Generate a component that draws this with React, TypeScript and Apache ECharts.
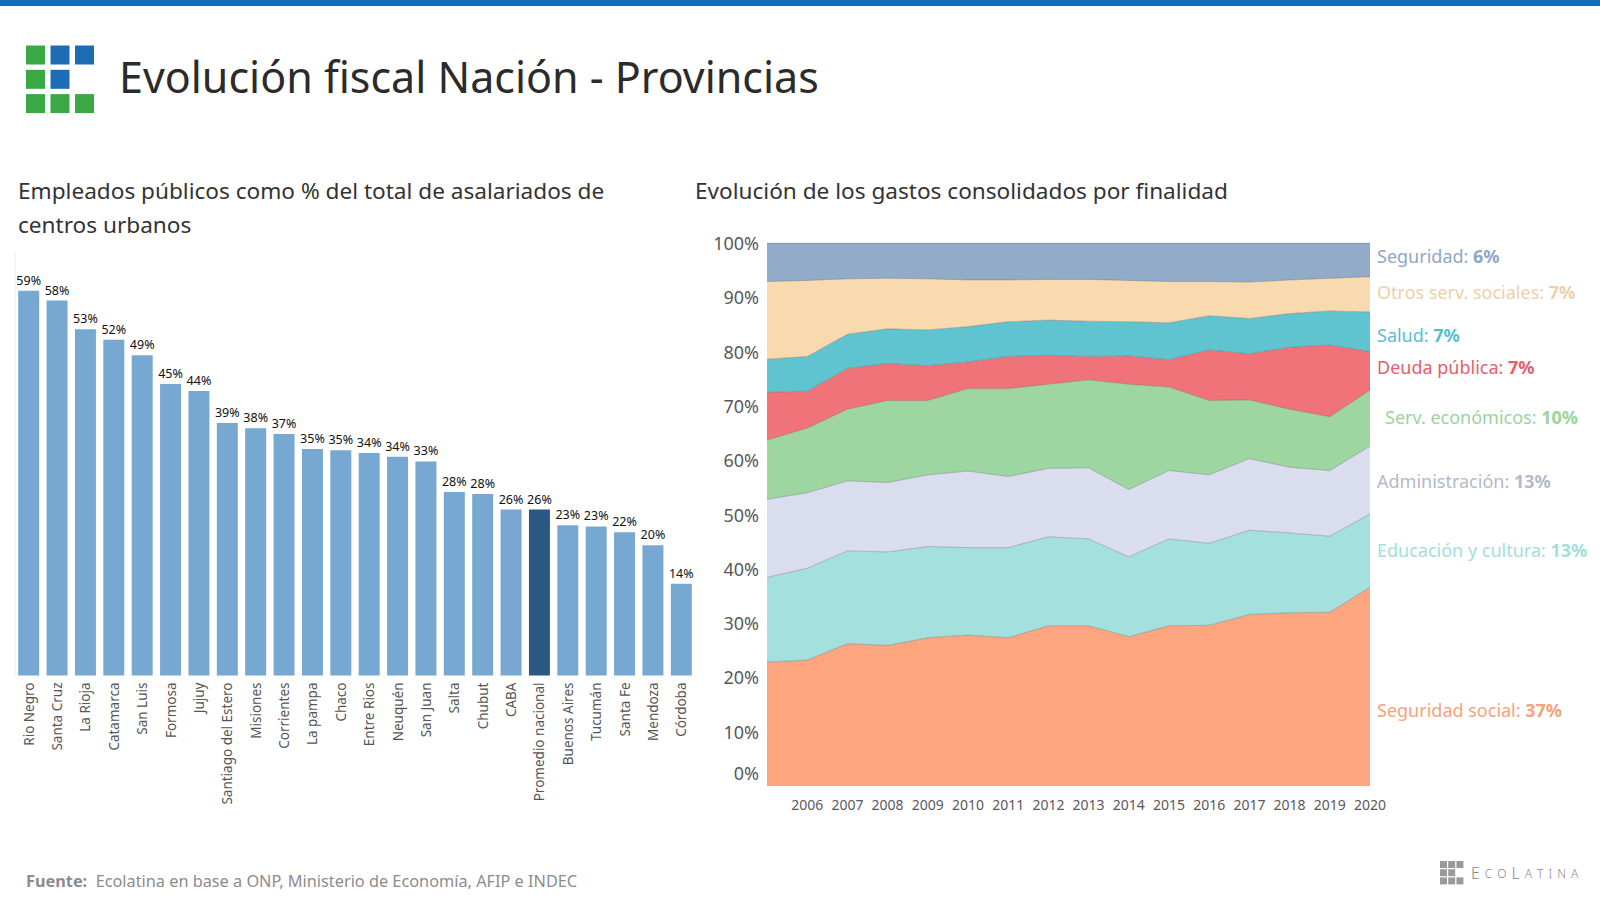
import React, { useEffect, useRef } from "react";
import * as echarts from "echarts";

// ---- Data: bar chart ----
const barCategories = [
  "Rio Negro", "Santa Cruz", "La Rioja", "Catamarca", "San Luis", "Formosa", "Jujuy",
  "Santiago del Estero", "Misiones", "Corrientes", "La pampa", "Chaco", "Entre Rios",
  "Neuquén", "San Juan", "Salta", "Chubut", "CABA", "Promedio nacional", "Buenos Aires",
  "Tucumán", "Santa Fe", "Mendoza", "Córdoba",
];
const barValues = [
  59.1, 57.6, 53.2, 51.6, 49.2, 44.8, 43.7, 38.8, 38.0, 37.1, 34.8, 34.6, 34.2, 33.6,
  32.9, 28.2, 27.9, 25.5, 25.5, 23.1, 22.9, 22.0, 20.0, 14.1,
];
const highlightCategory = "Promedio nacional";

// ---- Data: stacked area chart ----
const years = ["2005", "2006", "2007", "2008", "2009", "2010", "2011", "2012", "2013", "2014", "2015", "2016", "2017", "2018", "2019", "2020"];
const seguridadSocial = [22.8, 23.2, 26.2, 25.9, 27.3, 27.8, 27.3, 29.5, 29.5, 27.5, 29.5, 29.6, 31.6, 31.9, 32.0, 36.6];
const educacion = [15.6, 16.9, 17.1, 17.2, 16.8, 16.1, 16.6, 16.4, 16.0, 14.7, 16.0, 15.1, 15.5, 14.7, 14.0, 13.5];
const administracion = [14.4, 13.9, 12.9, 12.8, 13.2, 14.1, 13.1, 12.6, 13.1, 12.4, 12.6, 12.6, 13.2, 12.1, 12.1, 12.5];
const servEconomicos = [10.9, 11.9, 13.2, 15.1, 13.7, 15.2, 16.2, 15.5, 16.2, 19.4, 15.4, 13.7, 10.8, 10.7, 9.9, 10.3];
const deudaPublica = [8.8, 6.8, 7.5, 6.8, 6.4, 4.9, 5.9, 5.3, 4.3, 5.2, 5.0, 9.3, 8.5, 11.4, 13.2, 7.1];
const salud = [6.1, 6.4, 6.3, 6.4, 6.6, 6.5, 6.4, 6.5, 6.5, 6.3, 6.8, 6.3, 6.5, 6.2, 6.3, 7.3];
const otrosServSociales = [14.3, 14.0, 10.2, 9.3, 9.4, 8.6, 7.7, 7.5, 7.7, 7.6, 7.6, 6.3, 6.7, 6.2, 6.0, 6.5];
const seguridad = [7.1, 6.9, 6.6, 6.5, 6.6, 6.8, 6.8, 6.7, 6.7, 6.9, 7.1, 7.1, 7.2, 6.8, 6.5, 6.2];

const yTicks = [0, 10, 20, 30, 40, 50, 60, 70, 80, 90, 100];

// Series bottom -> top
const areaNames = ["Seguridad social", "Educación y cultura", "Administración", "Serv. económicos", "Deuda pública", "Salud", "Otros serv. sociales", "Seguridad"];
const areaData = [seguridadSocial, educacion, administracion, servEconomicos, deudaPublica, salud, otrosServSociales, seguridad];
const areaLastLabels = ["37%", "13%", "13%", "10%", "7%", "7%", "7%", "6%"];

const FONT = "'Noto Sans', 'Open Sans', sans-serif";
const areaColors = ["#FCA57E", "#A3E0DE", "#D9DDEE", "#9DD6A1", "#F0737A", "#5FC4D0", "#F9DAAF", "#91ABC8"];
const labelColors = ["#F6A27B", "#A2DEDC", "#B3BAC9", "#9AD49E", "#E4606C", "#58BFCE", "#EDD0A8", "#8EA6C6"];
// label anchors (x, y centre) for right-hand annotations, same order as areaNames
const labelPos: [number, number][] = [
  [1377, 710], [1377, 550], [1377, 481], [1385, 417], [1377, 367], [1377, 335], [1377, 292], [1377, 256],
];

export default function App() {
  const ref = useRef<HTMLDivElement>(null);

  useEffect(() => {
    if (!ref.current) return;
    const chart = echarts.init(ref.current, null, { renderer: "svg", width: 1600, height: 900 });

    const graphic: any[] = [];
    // top blue band
    graphic.push({ type: "rect", shape: { x: 0, y: 0, width: 1600, height: 6 }, style: { fill: "#0B6FBA" } });
    // logo
    const G = "#39A845", B = "#1E6CB3";
    const logo = [[G, B, B], [G, B, null], [G, G, G]];
    logo.forEach((row, r) =>
      row.forEach((c, col) => {
        if (!c) return;
        graphic.push({ type: "rect", shape: { x: 26 + col * 24.5, y: 45.5 + r * 24.3, width: 19, height: 19 }, style: { fill: c } });
      })
    );
    graphic.push({
      type: "text", x: 119, y: 76,
      style: { text: "Evolución fiscal Nación - Provincias", fill: "#2b2b2b", fontSize: 43, fontFamily: FONT, verticalAlign: "middle" },
    });
    graphic.push({
      type: "text", x: 18, y: 207,
      style: { text: "Empleados públicos como % del total de asalariados de\ncentros urbanos", fill: "#333", fontSize: 22.6, lineHeight: 34, fontFamily: FONT, verticalAlign: "middle" },
    });
    graphic.push({
      type: "text", x: 695, y: 190,
      style: { text: "Evolución de los gastos consolidados por finalidad", fill: "#333", fontSize: 22.6, fontFamily: FONT, verticalAlign: "middle" },
    });
    graphic.push({ type: "line", shape: { x1: 15, y1: 252, x2: 15, y2: 676 }, style: { stroke: "#ececec", lineWidth: 1 } });
    // right annotations
    areaNames.forEach((n, i) => {
      graphic.push({
        type: "text", x: labelPos[i][0], y: labelPos[i][1],
        style: {
          text: `{n|${n}: }{p|${areaLastLabels[i]}}`,
          verticalAlign: "middle",
          rich: {
            n: { fill: labelColors[i], fontSize: 18, fontFamily: FONT },
            p: { fill: labelColors[i], fontSize: 18, fontFamily: FONT, fontWeight: "bold" },
          },
        },
      });
    });
    // footer
    graphic.push({
      type: "text", x: 26, y: 881,
      style: {
        text: "{b|Fuente:}{t|  Ecolatina en base a ONP, Ministerio de Economía, AFIP e INDEC}",
        verticalAlign: "middle",
        rich: {
          b: { fill: "#8c8c8c", fontSize: 16.3, fontWeight: "bold", fontFamily: FONT },
          t: { fill: "#8c8c8c", fontSize: 16.3, fontFamily: FONT },
        },
      },
    });
    // bottom-right logo
    const gl = [[1, 1, 1], [1, 1, 0], [1, 1, 1]];
    gl.forEach((row, r) =>
      row.forEach((c, col) => {
        if (!c) return;
        graphic.push({ type: "rect", shape: { x: 1440 + col * 8.2, y: 861 + r * 8.2, width: 7, height: 7 }, style: { fill: "#9a9a9a" } });
      })
    );
    const brand = [["a", "E"], ["b", "C"], ["b", "O"], ["a", "L"], ["b", "A"], ["b", "T"], ["b", "I"], ["b", "N"], ["b", "A"]];
    graphic.push({
      type: "text", x: 1471, y: 873,
      style: {
        text: brand.map(([s, ch]) => `{${s}|${ch}}`).join(""),
        verticalAlign: "middle",
        rich: {
          a: { fill: "#8a8a8a", fontSize: 16, fontFamily: FONT, fontWeight: 300, padding: [0, 5, 0, 0] },
          b: { fill: "#8a8a8a", fontSize: 12, fontFamily: FONT, fontWeight: 300, padding: [0, 5, 0, 0] },
        },
      },
    });

    const option: any = {
      animation: false,
      backgroundColor: "#fff",
      textStyle: { fontFamily: FONT },
      grid: [
        { left: 14.5, right: 1600 - 695.5, top: 285, bottom: 900 - 675.5 },
        { left: 767, right: 1600 - 1370, top: 243, bottom: 900 - 786 },
      ],
      xAxis: [
        {
          type: "category", gridIndex: 0, data: barCategories,
          axisLine: { show: false }, axisTick: { show: false },
          axisLabel: { rotate: 90, interval: 0, margin: 7, color: "#555", fontSize: 13.5, fontFamily: FONT },
        },
        {
          type: "category", gridIndex: 1, data: years, boundaryGap: false,
          axisLine: { show: false }, axisTick: { show: false },
          axisLabel: { interval: (i: number) => i > 0, margin: 11, color: "#595959", fontSize: 14, fontFamily: FONT },
        },
      ],
      yAxis: [
        { type: "value", gridIndex: 0, min: 0, max: 60, show: false },
        {
          type: "value", gridIndex: 1, min: yTicks[0], max: yTicks[yTicks.length - 1], interval: 10,
          axisLine: { show: false }, axisTick: { show: false }, splitLine: { show: false },
          axisLabel: {
            margin: 8, color: "#595959", fontSize: 18, fontFamily: FONT,
            formatter: (v: number) => (v === 0 ? "{z|0%}" : `${v}%`),
            rich: { z: { color: "#595959", fontSize: 18, fontFamily: FONT, padding: [0, 0, 26, 0] } },
          },
        },
      ],
      series: [
        {
          type: "bar", xAxisIndex: 0, yAxisIndex: 0, barCategoryGap: "26%",
          data: barValues.map((v, i) =>
            barCategories[i] === highlightCategory ? { value: v, itemStyle: { color: "#2B5783" } } : v
          ),
          itemStyle: { color: "#76A8D1" },
          label: {
            show: true, position: "top", distance: 4, color: "#111", fontSize: 12.5, fontFamily: FONT,
            formatter: (p: any) => `${Math.round(p.value)}%`,
          },
        },
        ...areaNames.map((n, i) => ({
          name: n, type: "line", xAxisIndex: 1, yAxisIndex: 1, stack: "total",
          data: areaData[i], showSymbol: false, symbol: "none",
          lineStyle: { width: 1, color: "rgba(90,90,90,0.35)" },
          areaStyle: { color: areaColors[i], opacity: 1 },
          z: 2,
        })),
      ],
      graphic,
    };
    chart.setOption(option);
    return () => chart.dispose();
  }, []);

  return <div ref={ref} style={{ position: "absolute", left: 0, top: 0, width: 1600, height: 900, background: "#fff" }} />;
}
